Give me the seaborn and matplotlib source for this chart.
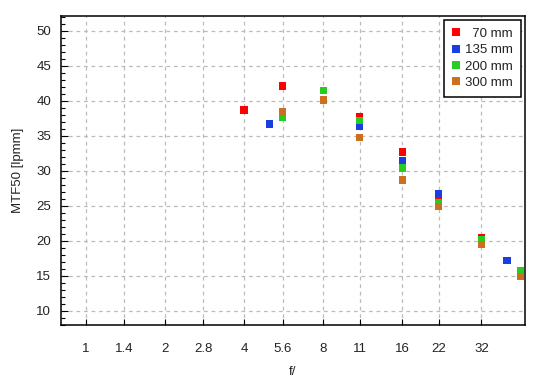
import matplotlib
matplotlib.use("Agg")
import matplotlib.pyplot as plt
from matplotlib.ticker import FixedLocator, MultipleLocator, NullLocator
import seaborn as sns
import pandas as pd

# MTF50 readings per focal length
focal_lengths = ["  70 mm", "135 mm", "200 mm", "300 mm"]
fstop_70 = [4, 5.6, 11, 16, 22, 32]
mtf_70 = [38.7, 42.1, 37.7, 32.7, 25.8, 20.4]
fstop_135 = [5, 11, 16, 22, 40]
mtf_135 = [36.7, 36.3, 31.5, 26.8, 17.2]
fstop_200 = [5.6, 8, 11, 16, 22, 32, 45]
mtf_200 = [37.6, 41.5, 37.2, 30.4, 25.4, 20.2, 15.8]
fstop_300 = [5.6, 8, 11, 16, 22, 32, 45]
mtf_300 = [38.4, 40.1, 34.8, 28.7, 24.9, 19.5, 14.9]

x_ticks = [1, 1.4, 2, 2.8, 4, 5.6, 8, 11, 16, 22, 32]
x_tick_labels = ["1", "1.4", "2", "2.8", "4", "5.6", "8", "11", "16", "22", "32"]
y_ticks = [10, 15, 20, 25, 30, 35, 40, 45, 50]

colors = ["#ff0000", "#1a3fe0", "#26cc1f", "#cc6f1f"]

frames = []
for name, xs, ys in zip(focal_lengths,
                        [fstop_70, fstop_135, fstop_200, fstop_300],
                        [mtf_70, mtf_135, mtf_200, mtf_300]):
    frames.append(pd.DataFrame({"f": xs, "mtf": ys, "lens": name}))
df = pd.concat(frames, ignore_index=True)

sns.set_style("white")
plt.rcParams["font.family"] = ["Liberation Sans", "DejaVu Sans"]
plt.rcParams["text.color"] = "#222222"
plt.rcParams["axes.labelcolor"] = "#222222"

fig = plt.figure(figsize=(5.5, 3.8), dpi=100)
ax = fig.add_axes([61 / 550, 55 / 380, 464 / 550, 309 / 380])

sns.scatterplot(data=df, x="f", y="mtf", hue="lens", hue_order=focal_lengths,
                palette=colors, marker="s", s=28, linewidth=0, ax=ax, zorder=3)

ax.set_xscale("log", base=2)
ax.set_xlim(0.803, 46.9)
ax.set_ylim(8, 52.1)
ax.xaxis.set_major_locator(FixedLocator(x_ticks))
ax.set_xticklabels(x_tick_labels)
ax.xaxis.set_minor_locator(NullLocator())
ax.yaxis.set_major_locator(FixedLocator(y_ticks))
ax.yaxis.set_minor_locator(MultipleLocator(1))

ax.tick_params(axis="both", which="both", direction="in", colors="black",
               labelcolor="#222222", labelsize=9.5, width=0.8,
               bottom=True, left=True, top=False, right=False)
ax.tick_params(axis="x", which="major", length=4, pad=13)
ax.tick_params(axis="y", which="major", length=5, pad=7)
ax.tick_params(axis="y", which="minor", length=3)

ax.grid(True, which="major", color="#bbbbbb", linestyle=(0, (3, 3)), linewidth=0.9)
for sp in ax.spines.values():
    sp.set_color("black")
    sp.set_linewidth(1.1)

ax.set_xlabel("f/", fontsize=9.5, labelpad=8)
ax.set_ylabel("MTF50 [lpmm]", fontsize=9.5, labelpad=9)

handles, labels = ax.get_legend_handles_labels()
leg = ax.legend(handles, labels, loc="upper right", fontsize=9.5, frameon=True,
                fancybox=False, edgecolor="black", framealpha=1,
                borderaxespad=0.3, handlelength=0.6, handletextpad=0.4,
                labelspacing=0.3, borderpad=0.6, markerscale=1.2)
leg.get_frame().set_linewidth(1.1)

fig.savefig("out.png", dpi=100)
